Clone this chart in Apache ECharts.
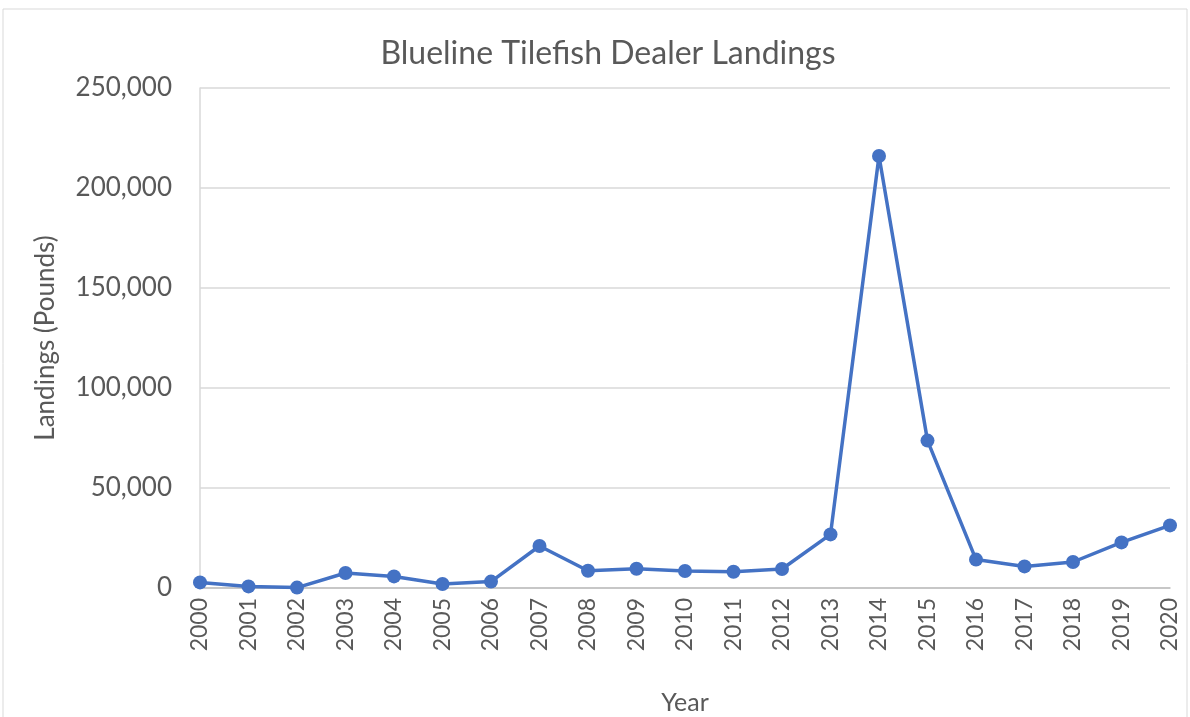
<!DOCTYPE html>
<html>
<head>
<meta charset="utf-8">
<script src="https://cdn.jsdelivr.net/npm/echarts@6/dist/echarts.min.js"></script>
<style>
  html, body { margin: 0; padding: 0; background: #ffffff; }
  #chart { width: 1190px; height: 717px; }
</style>
</head>
<body>
<div id="chart"></div>
<script>
// years on the x axis
var years = ['2000', '2001', '2002', '2003', '2004', '2005', '2006', '2007', '2008', '2009', '2010',
  '2011', '2012', '2013', '2014', '2015', '2016', '2017', '2018', '2019', '2020'];
// dealer landings, pounds
var landings = [2800, 800, 200, 7500, 5800, 2000, 3200, 21000, 8600, 9600, 8500,
  8100, 9500, 26800, 216000, 73700, 14200, 10800, 13000, 22800, 31300];

var font = 'Lato, "Open Sans", sans-serif';
var grey = '#595959';

var chart = echarts.init(document.getElementById('chart'));
chart.setOption({
  animation: false,
  graphic: [{
    type: 'rect',
    shape: { x: 3, y: 9, width: 1184, height: 720 },
    style: { fill: 'none', stroke: '#d9d9d9', lineWidth: 1 },
    silent: true
  }],
  title: {
    text: 'Blueline Tilefish Dealer Landings',
    left: 603,
    top: 33,
    textAlign: 'center',
    textStyle: { fontFamily: font, fontSize: 32, fontWeight: 'normal', color: grey }
  },
  grid: { left: 200, right: 20, top: 88, bottom: 129, outerBoundsMode: 'none' },
  xAxis: {
    type: 'category',
    data: years,
    boundaryGap: false,
    name: 'Year',
    nameLocation: 'middle',
    nameGap: 102,
    nameTextStyle: { fontFamily: font, fontSize: 25, color: grey },
    axisLine: { lineStyle: { color: '#bfbfbf', width: 1.5 } },
    axisTick: { show: false },
    axisLabel: {
      rotate: 90,
      interval: 0,
      margin: 10,
      fontFamily: font,
      fontSize: 23,
      color: grey
    }
  },
  yAxis: {
    type: 'value',
    min: 0,
    max: 250000,
    interval: 50000,
    name: 'Landings (Pounds)',
    nameLocation: 'middle',
    nameGap: 141,
    nameTextStyle: { fontFamily: font, fontSize: 26, color: grey },
    axisLine: { show: true, lineStyle: { color: '#d9d9d9', width: 1.5 } },
    axisTick: { show: false },
    splitLine: { lineStyle: { color: '#d9d9d9', width: 1.5 } },
    axisLabel: {
      margin: 28,
      fontFamily: font,
      fontSize: 26,
      color: grey,
      formatter: function (v) { return v.toLocaleString('en-US'); }
    }
  },
  series: [{
    name: 'Landings',
    type: 'line',
    data: landings,
    symbol: 'circle',
    symbolSize: 14,
    lineStyle: { color: '#4472C4', width: 3.5 },
    itemStyle: { color: '#4472C4' }
  }]
});
</script>
</body>
</html>
